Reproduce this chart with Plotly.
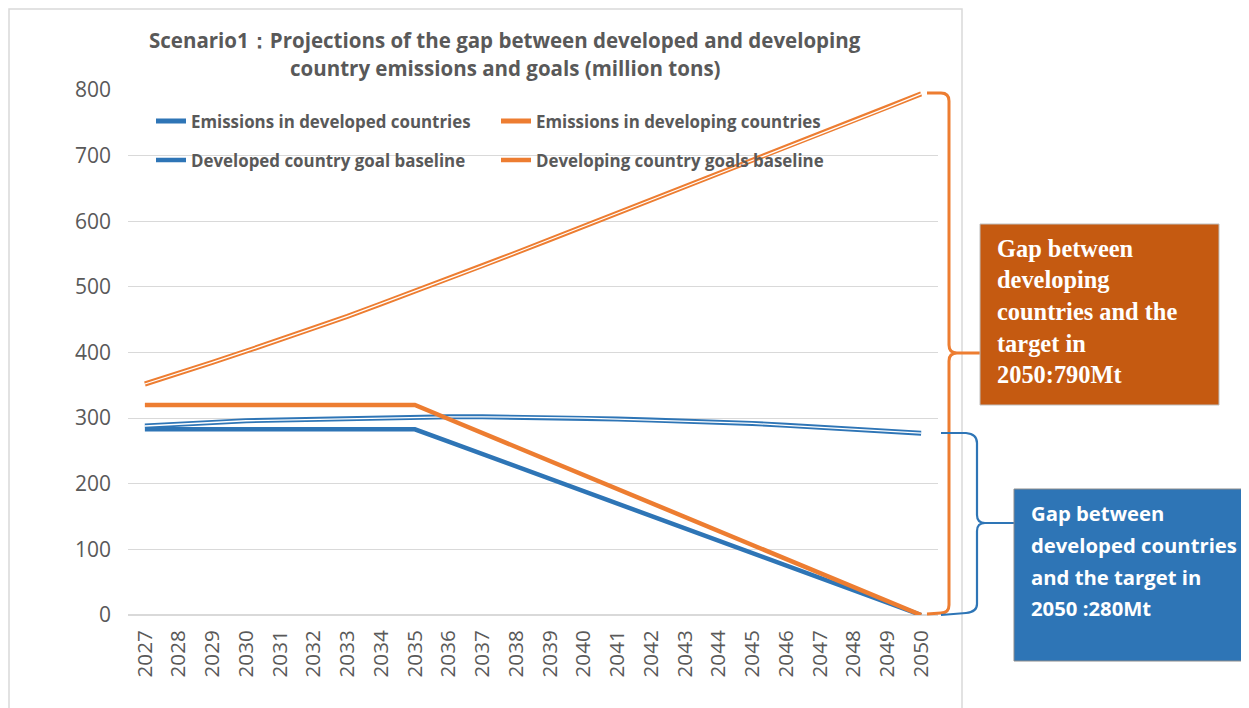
import plotly.graph_objects as go

# ---------------- data ----------------
years = [2027, 2028, 2029, 2030, 2031, 2032, 2033, 2034, 2035, 2036, 2037, 2038,
         2039, 2040, 2041, 2042, 2043, 2044, 2045, 2046, 2047, 2048, 2049, 2050]
emis_developed = [288, 291, 294, 296, 297, 298, 299, 300.5, 302, 302, 302, 301.5,
                  301, 300, 298.5, 297, 295.5, 294, 292, 289, 286, 283, 280, 277]
emis_developing = [352, 368, 385, 402, 419, 437, 455, 474, 493, 512, 532, 552,
                   572, 592, 612, 632, 652, 672, 692, 713, 733, 753, 773, 794]
goal_developed = [283, 283, 283, 283, 283, 283, 283, 283, 283, 264.1, 245.3, 226.4,
                  207.5, 188.7, 169.8, 150.9, 132.1, 113.2, 94.3, 75.5, 56.6, 37.7, 18.9, 0]
goal_developing = [320, 320, 320, 320, 320, 320, 320, 320, 320, 298.7, 277.3, 256,
                   234.7, 213.3, 192, 170.7, 149.3, 128, 106.7, 85.3, 64, 42.7, 21.3, 0]
y_ticks = [0, 100, 200, 300, 400, 500, 600, 700, 800]

names = ["Emissions in developed countries", "Emissions in developing countries",
         "Developed country goal baseline", "Developing country goals baseline"]
title_lines = ["Scenario1：Projections of the gap between developed and developing",
               "country emissions and goals (million tons)"]
orange_box_lines = ["Gap between", "developing", "countries and the", "target in", "2050:790Mt"]
blue_box_lines = ["Gap between", "developed countries", "and the target in", "2050 :280Mt"]

# ---------------- style ----------------
BLUE = "#2E75B6"
ORANGE = "#ED7D31"
DARK_ORANGE = "#C55A11"
GREY_TXT = "#595959"
GRID = "#D9D9D9"
FONT = "Open Sans, Noto Sans, sans-serif"

OFF = 8  # page body margin
W_FIG, H_FIG = 1249 - OFF, 708 - OFF
# plot-area edges in window pixels
L, R, T, B = 128, 938, 90, 615


def px(x):
    return (x - L) / (R - L)


def py(y):
    return (B - y) / (B - T)


fig = go.Figure()

# emissions (double lines: coloured wide + white thin core)
fig.add_trace(go.Scatter(x=years, y=emis_developed, mode="lines", name=names[0],
                         line=dict(color=BLUE, width=5), legend="legend"))
fig.add_trace(go.Scatter(x=years, y=emis_developed, mode="lines", showlegend=False,
                         line=dict(color="white", width=1.3), hoverinfo="skip"))
fig.add_trace(go.Scatter(x=years, y=emis_developing, mode="lines", name=names[1],
                         line=dict(color=ORANGE, width=5), legend="legend2"))
fig.add_trace(go.Scatter(x=years, y=emis_developing, mode="lines", showlegend=False,
                         line=dict(color="white", width=1.3), hoverinfo="skip"))
fig.add_trace(go.Scatter(x=years, y=goal_developed, mode="lines", name=names[2],
                         line=dict(color=BLUE, width=4.5), legend="legend3"))
fig.add_trace(go.Scatter(x=years, y=goal_developing, mode="lines", name=names[3],
                         line=dict(color=ORANGE, width=4.5), legend="legend4"))

legend_font = dict(family=FONT, size=16.9, color=GREY_TXT, weight="bold")


def leg(x_text, y_center):
    return dict(x=px(x_text - 40), y=py(y_center), xanchor="left", yanchor="middle",
                bgcolor="rgba(0,0,0,0)", font=legend_font, borderwidth=0)


def P(x, y):
    return f"{px(x):.5f},{py(y):.5f}"


shapes = []
# chart-area border
shapes.append(dict(type="rect", xref="paper", yref="paper",
                   x0=px(9), x1=px(962), y0=py(9), y1=py(760),
                   line=dict(color=GRID, width=1.5), fillcolor="rgba(0,0,0,0)", layer="below"))
# orange brace
orange_brace = (f"M {P(927,93)} L {P(941,93)} Q {P(949,93)} {P(949,101)} "
                f"L {P(949,345)} Q {P(949,353)} {P(957,353)} L {P(980,353)} "
                f"M {P(957,353)} Q {P(949,353)} {P(949,361)} "
                f"L {P(949,605)} Q {P(949,613)} {P(941,613)} L {P(927,614)}")
shapes.append(dict(type="path", xref="paper", yref="paper", path=orange_brace,
                   line=dict(color=ORANGE, width=3)))
# blue brace
blue_brace = (f"M {P(941,433)} L {P(966,433)} Q {P(977,434)} {P(977,443)} "
              f"L {P(977,515)} Q {P(977,523)} {P(985,523)} L {P(1014,523)} "
              f"M {P(985,523)} Q {P(977,523)} {P(977,531)} "
              f"L {P(977,604)} Q {P(977,612)} {P(966,613)} L {P(941,615)}")
shapes.append(dict(type="path", xref="paper", yref="paper", path=blue_brace,
                   line=dict(color=BLUE, width=2.2)))
# boxes
shapes.append(dict(type="rect", xref="paper", yref="paper",
                   x0=px(980), x1=px(1219), y0=py(405), y1=py(224),
                   fillcolor=DARK_ORANGE, line=dict(color="#BFBFBF", width=1)))
shapes.append(dict(type="rect", xref="paper", yref="paper",
                   x0=px(1014), x1=px(1260), y0=py(661), y1=py(489),
                   fillcolor=BLUE, line=dict(color="#8C8C8C", width=1)))

annotations = []
for i, t in enumerate(orange_box_lines):
    annotations.append(dict(text=t, xref="paper", yref="paper", x=px(995), y=py(248 + i * 31.7),
                            xanchor="left", yanchor="middle", showarrow=False,
                            font=dict(family="Liberation Serif, Times New Roman, serif",
                                      size=24.4, color="white", weight="bold")))
for i, t in enumerate(blue_box_lines):
    annotations.append(dict(text=t, xref="paper", yref="paper", x=px(1029), y=py(513 + i * 31.8),
                            xanchor="left", yanchor="middle", showarrow=False,
                            font=dict(family=FONT, size=20.3, color="white", weight="bold")))
for i, t in enumerate(title_lines):
    annotations.append(dict(text=t, xref="paper", yref="paper", x=px(505), y=py(40 + i * 28),
                            xanchor="center", yanchor="middle", showarrow=False,
                            font=dict(family=FONT, size=20.5, color=GREY_TXT, weight="bold")))

fig.update_layout(
    width=W_FIG, height=H_FIG,
    margin=dict(l=L - OFF, r=W_FIG - (R - OFF), t=T - OFF, b=H_FIG - (B - OFF), autoexpand=False),
    paper_bgcolor="white", plot_bgcolor="white",
    font=dict(family=FONT, color=GREY_TXT),
    showlegend=True,
    legend=leg(191, 121),
    legend2=leg(536, 121),
    legend3=leg(191, 160),
    legend4=leg(536, 160),
    shapes=shapes,
    annotations=annotations,
    hovermode=False,
)
fig.update_xaxes(range=[2026.5, 2050.5], tickmode="array", tickvals=years,
                 ticktext=[str(y) for y in years], tickangle=-90,
                 tickfont=dict(size=20.7, color=GREY_TXT), showgrid=False,
                 zeroline=False, showline=False, ticks="", ticklabelstandoff=10)
fig.update_yaxes(range=[0, 800], tickmode="array", tickvals=y_ticks,
                 tickfont=dict(size=21, color=GREY_TXT), showgrid=True,
                 gridcolor=GRID, gridwidth=1.3, zeroline=True, zerolinecolor=GRID,
                 zerolinewidth=2, showline=False, ticks="", ticklabelstandoff=16)

fig.write_html("out.html")
